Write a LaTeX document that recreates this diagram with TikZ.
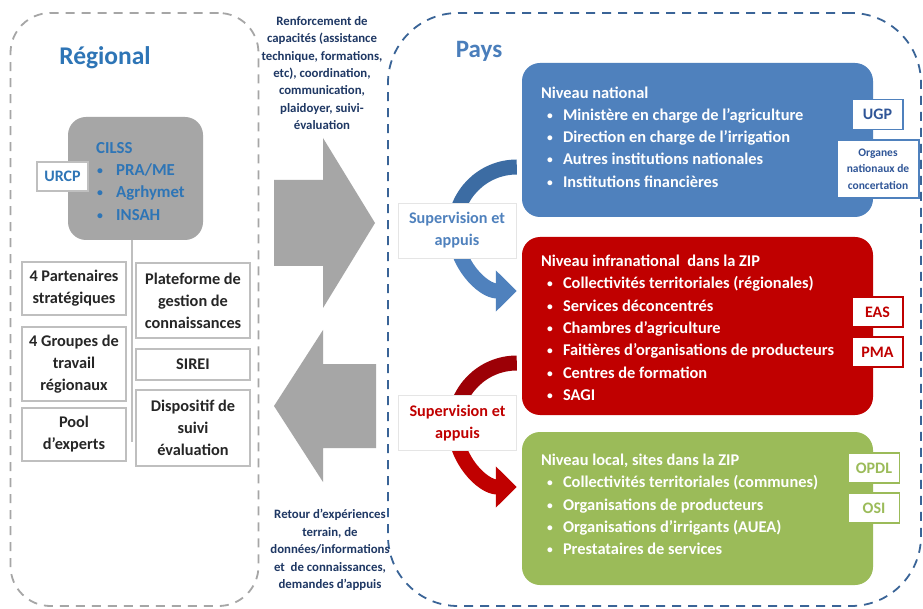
\documentclass[tikz,border=0pt]{standalone}
\usepackage{fontspec}
\setmainfont{Carlito}
\usepackage{tikz}
\usetikzlibrary{arrows.meta}
\definecolor{regblue}{HTML}{2E75B6}
\definecolor{paysblue}{HTML}{4A7EBB}
\definecolor{navy}{HTML}{1F3864}
\definecolor{natblue}{HTML}{4F81BD}
\definecolor{darkblue}{HTML}{2F5597}
\definecolor{arcblue}{HTML}{3C6CA3}
\definecolor{infrared}{HTML}{C00000}
\definecolor{arcred}{HTML}{9C0006}
\definecolor{locgreen}{HTML}{9BBB59}
\definecolor{greyfill}{HTML}{A6A6A6}
\definecolor{dashblue}{HTML}{3A6497}

\tikzset{
  zone/.style={rounded corners=#1, dashed, dash pattern=on 9pt off 7pt, line width=1.8pt},
  greybox/.style={draw=gray!50, line width=1.6pt, fill=white, text=black!85,
    font=\fontsize{16.3}{22}\selectfont\bfseries, align=center, inner sep=0pt},
  tagbox/.style={draw=#1, line width=1.3pt, fill=white, text=#1, inner sep=0pt,
    font=\fontsize{16}{18}\selectfont\bfseries, minimum width=51pt, minimum height=30pt},
  levelbox/.style={fill=#1, rounded corners=18pt, inner sep=0pt},
  leveltext/.style={anchor=north west, text=white, align=left, inner sep=0pt,
    font=\fontsize{16.4}{22.3}\selectfont\bfseries},
  band/.style={draw=#1, line width=15pt},
  caption/.style={text=navy, align=center, inner sep=0pt,
    font=\fontsize{12.8}{17.4}\selectfont\bfseries},
  suplabel/.style={draw=gray!20, fill=white, text=#1, align=center, inner sep=0pt,
    minimum width=118pt, minimum height=55pt, font=\fontsize{16.2}{22}\selectfont\bfseries}
}
\newcommand{\smallbul}{\raisebox{1pt}{\scalebox{0.7}{\textbullet}}}
\newcommand{\bul}{\hspace*{6pt}\makebox[16pt][l]{\smallbul}}

\begin{document}
\begin{tikzpicture}[x=1pt, y=-1pt]
  \useasboundingbox (0,0) rectangle (923,609);
  \fill[white] (0,0) rectangle (923,609);

  % the two zones
  \node[zone=40pt, draw=greyfill, minimum width=248pt, minimum height=593pt] (regional) at (134.5,309.5) {};
  \node[zone=70pt, draw=dashblue, minimum width=533pt, minimum height=593pt] (pays) at (654.5,309.5) {};
  \node[text=regblue, font=\fontsize{25.5}{30}\selectfont\bfseries] (regtitle) at (105,58) {Régional};
  \node[text=paysblue, font=\fontsize{25}{30}\selectfont\bfseries] (paystitle) at (479,51) {Pays};

  % regional level
  \node[fill=greyfill, rounded corners=18pt, minimum width=135pt, minimum height=123pt] (cilss) at (135.5,178.5) {};
  \node[anchor=north west, text=regblue, align=left, inner sep=0pt,
    font=\fontsize{16.8}{22.3}\selectfont\bfseries] (cilsstext) at (96,142)
    {CILSS\\ \hspace*{1pt}\makebox[19pt][l]{\smallbul}PRA/ME\\ \hspace*{1pt}\makebox[19pt][l]{\smallbul}Agrhymet\\ \hspace*{1pt}\makebox[19pt][l]{\smallbul}INSAH};
  \node[tagbox=regblue, draw=gray!50, minimum height=29pt] (urcp) at (62.5,176.5) {URCP};
  \draw[gray!50, line width=1.2pt] (cilss.south -| 132,0) -- (132,442);

  \node[greybox, minimum width=104pt, minimum height=53pt] (partners) at (74,288.5) {4 Partenaires\\stratégiques};
  \node[greybox, minimum width=104pt, minimum height=74pt] (groups) at (74,364) {4 Groupes de\\travail\\régionaux};
  \node[greybox, minimum width=104pt, minimum height=53pt] (pool) at (74,434.5) {Pool\\d’experts};
  \node[greybox, minimum width=114pt, minimum height=75pt] (platform) at (193,300.5) {Plateforme de\\gestion de\\connaissances};
  \node[greybox, minimum width=114pt, minimum height=31pt] (sirei) at (193,364.5) {SIREI};
  \node[greybox, minimum width=114pt, minimum height=76pt] (monitoring) at (193,428) {Dispositif de\\suivi\\évaluation};

  % flows between regional and country level
  \fill[greyfill] (274,180) -- (323,180) -- (323,138) -- (375,223) -- (323,308) -- (323,266) -- (274,266) -- cycle;
  \fill[greyfill] (376,364) -- (323,364) -- (323,330) -- (274,406) -- (323,482) -- (323,448) -- (376,448) -- cycle;
  \node[caption] (support) at (322,73) {Renforcement de\\capacités (assistance\\technique, formations,\\etc), coordination,\\communication,\\plaidoyer, suivi-\\évaluation};
  \node[caption] (feedback) at (330,550) {Retour d’expériences\\terrain, de\\données/informations\\et \ de connaissances,\\demandes d’appuis};

  % country levels
  \node[levelbox=natblue, minimum width=351pt, minimum height=154pt] (nat) at (697.5,140) {};
  \node[levelbox=infrared, minimum width=351pt, minimum height=178pt] (infra) at (697.5,326) {};
  \node[levelbox=locgreen, minimum width=351pt, minimum height=153pt] (local) at (697.5,508.5) {};

  % supervision arrows
  \draw[band=arcblue] ([xshift=-5pt]nat.west |- 0,167) arc[start angle=270, end angle=180, radius=62] coordinate (bluemid);
  \draw[band=natblue, -{Triangle[length=21pt, width=40pt]}] (bluemid) arc[start angle=180, end angle=90, radius=62];
  \draw[band=arcred] ([xshift=-5pt]infra.west |- 0,363) arc[start angle=270, end angle=180, radius=62] coordinate (redmid);
  \draw[band=infrared, -{Triangle[length=21pt, width=40pt]}] (redmid) arc[start angle=180, end angle=90, radius=62];
  \node[suplabel=natblue] (supnat) at (457,230.5) {Supervision et\\appuis};
  \node[suplabel=infrared] (supinfra) at (457.5,423) {Supervision et\\appuis};

  \node[leveltext] (nattext) at ([xshift=19pt, yshift=-23.5pt]nat.north west)
    {Niveau national\\ \bul Ministère en charge de l’agriculture\\ \bul Direction en charge de l’irrigation\\ \bul Autres institutions nationales\\ \bul Institutions financières};
  \node[leveltext] (infratext) at ([xshift=19pt, yshift=-18pt]infra.north west)
    {Niveau infranational \ dans la ZIP\\ \bul Collectivités territoriales (régionales)\\ \bul Services déconcentrés\\ \bul Chambres d’agriculture\\ \bul Faitières d’organisations de producteurs\\ \bul Centres de formation\\ \bul SAGI};
  \node[leveltext] (localtext) at ([xshift=19pt, yshift=-22pt]local.north west)
    {Niveau local, sites dans la ZIP\\ \bul Collectivités territoriales (communes)\\ \bul Organisations de producteurs\\ \bul Organisations d’irrigants (AUEA)\\ \bul Prestataires de services};

  % bodies attached to each level
  \node[tagbox=darkblue, draw=natblue] (ugp) at (877.5,114.5) {UGP};
  \node[tagbox=darkblue, draw=natblue, minimum width=82pt, minimum height=58pt, align=center,
    font=\fontsize{11.5}{16.5}\selectfont\bfseries] (organes) at (878,169) {Organes\\nationaux de\\concertation};
  \node[tagbox=infrared] (eas) at (877.5,312) {EAS};
  \node[tagbox=infrared] (pma) at (877.5,352) {PMA};
  \node[tagbox=locgreen] (opdl) at (874,468) {OPDL};
  \node[tagbox=locgreen] (osi) at (874,508) {OSI};
\end{tikzpicture}
\end{document}
